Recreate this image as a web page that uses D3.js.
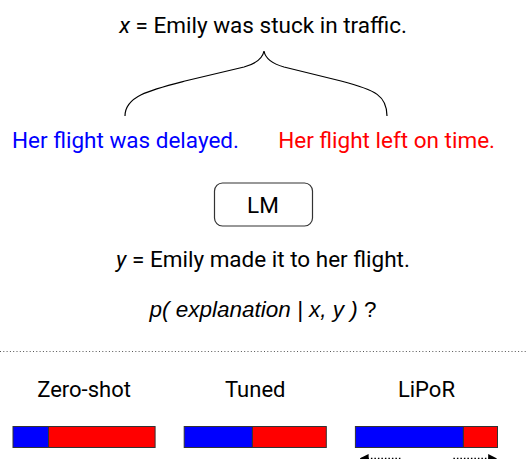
<!DOCTYPE html>
<html>
<head>
<meta charset="utf-8">
<script src="https://cdn.jsdelivr.net/npm/d3@7"></script>
<style>
  body { margin: 0; background: #fff; }
  text { font-family: Roboto, sans-serif; }
</style>
</head>
<body>
<div class="figure"></div>
<script>
const svgWidth = 527, svgHeight = 459;

// methods and their probability split between the two explanations
const methods = ["Zero-shot", "Tuned", "LiPoR"];
const pDelayed = [0.25, 0.48, 0.76];
const pOnTime = [0.75, 0.52, 0.24];
const explanations = ["Her flight was delayed.", "Her flight left on time."];
const explColors = ["#0000ff", "#ff0000"];

var svg = d3.select(".figure").append("svg")
    .attr("width", svgWidth)
    .attr("height", svgHeight);

var cx = 263, fs = "22.5px";

// premise
var xLine = svg.append("text")
    .attr("x", cx).attr("y", 33)
    .attr("text-anchor", "middle")
    .style("font-size", fs);
xLine.append("tspan").style("font-style", "italic").text("x");
xLine.append("tspan").text(" = Emily was stuck in traffic.");

// curly brace
svg.append("path")
    .attr("d", "M125,116 C125,96 150,90 185,81 L244,67 Q262,62 264,51 Q266,62 284,67 L341,81 C376,90 387,96 387,116")
    .attr("fill", "none")
    .attr("stroke", "#000")
    .attr("stroke-width", 1.2);

// the two explanations
svg.selectAll("text.expl")
    .data(explanations)
    .enter().append("text")
    .attr("class", "expl")
    .attr("x", function (d, i) { return i == 0 ? 12 : 495; })
    .attr("y", 148)
    .attr("text-anchor", function (d, i) { return i == 0 ? "start" : "end"; })
    .style("font-size", fs)
    .style("fill", function (d, i) { return explColors[i]; })
    .text(function (d) { return d; });

// LM box
svg.append("rect")
    .attr("x", 214.5).attr("y", 183)
    .attr("width", 98).attr("height", 43)
    .attr("rx", 8)
    .attr("fill", "none")
    .attr("stroke", "#333")
    .attr("stroke-width", 1.2);
svg.append("text")
    .attr("x", cx).attr("y", 213)
    .attr("text-anchor", "middle")
    .style("font-size", fs)
    .text("LM");

// observation
var yLine = svg.append("text")
    .attr("x", cx).attr("y", 267)
    .attr("text-anchor", "middle")
    .style("font-size", fs);
yLine.append("tspan").style("font-style", "italic").text("y");
yLine.append("tspan").text(" = Emily made it to her flight.");

// question
var q = svg.append("text")
    .attr("x", cx).attr("y", 317)
    .attr("text-anchor", "middle")
    .style("font-family", "'Liberation Sans', Arial, sans-serif")
    .style("font-size", "22.5px");
q.append("tspan").style("font-style", "italic").text("p( explanation | x, y )");
q.append("tspan").text(" ?");

// dotted separator
svg.append("line")
    .attr("x1", 0).attr("x2", svgWidth)
    .attr("y1", 351.5).attr("y2", 351.5)
    .attr("stroke", "#555")
    .attr("stroke-width", 1)
    .attr("stroke-dasharray", "1,2.3");

// bars
var bandScale = d3.scaleBand()
    .domain(methods)
    .range([13, 497.5])
    .paddingInner(0.17);

var xScale = d3.scaleLinear()
    .domain([0, 1])
    .range([0, bandScale.bandwidth()]);

var barY = 426.5, barH = 21;

var groups = svg.selectAll("g.method")
    .data(methods)
    .enter().append("g")
    .attr("class", "method")
    .attr("transform", function (d) {
        return "translate(" + [bandScale(d), 0] + ")";
    });

groups.append("text")
    .attr("x", bandScale.bandwidth() / 2)
    .attr("y", 397)
    .attr("text-anchor", "middle")
    .style("font-size", "22px")
    .text(function (d) { return d; });

groups.append("rect")
    .attr("x", 0)
    .attr("y", barY)
    .attr("width", function (d, i) { return xScale(pDelayed[i]); })
    .attr("height", barH)
    .attr("fill", explColors[0])
    .attr("stroke", "#333")
    .attr("stroke-width", 1);

groups.append("rect")
    .attr("x", function (d, i) { return xScale(pDelayed[i]); })
    .attr("y", barY)
    .attr("width", function (d, i) { return xScale(pOnTime[i]); })
    .attr("height", barH)
    .attr("fill", explColors[1])
    .attr("stroke", "#333")
    .attr("stroke-width", 1);

// dotted arrows under LiPoR
var defs = svg.append("defs");
defs.append("marker")
    .attr("id", "head")
    .attr("viewBox", "0 0 10 10")
    .attr("refX", 8).attr("refY", 5)
    .attr("markerWidth", 6).attr("markerHeight", 6)
    .attr("orient", "auto")
    .append("path")
    .attr("d", "M0,0 L10,5 L0,10 Z")
    .attr("fill", "#000");

var lipor = bandScale("LiPoR");
[[lipor + 45, lipor + 6], [lipor + 98, lipor + 140]].forEach(function (a) {
    svg.append("line")
        .attr("x1", a[0]).attr("x2", a[1])
        .attr("y1", 458.5).attr("y2", 458.5)
        .attr("stroke", "#000")
        .attr("stroke-width", 1.5)
        .attr("stroke-dasharray", "1.5,2")
        .attr("marker-end", "url(#head)");
});
</script>
</body>
</html>
